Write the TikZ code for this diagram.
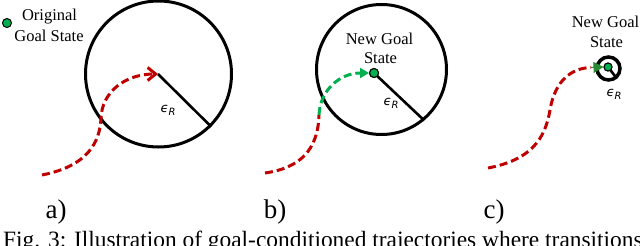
\documentclass[tikz,border=0pt]{standalone}
\usepackage{fontspec}
\setmainfont{Liberation Serif}
\newfontfamily\epsfont{DejaVu Sans}
\usetikzlibrary{arrows.meta}
\definecolor{trajred}{RGB}{192,0,0}
\definecolor{trajgreen}{RGB}{0,176,80}
\definecolor{tipgreen}{RGB}{40,140,50}
\begin{document}
\begin{tikzpicture}[x=1pt,y=-1pt,
  ring/.style={circle,draw=black,line width=3pt,inner sep=0pt},
  radline/.style={draw=black,line width=2.6pt},
  goaldot/.style={circle,fill=trajgreen,draw=black,line width=1pt,minimum size=9pt,inner sep=0pt},
  lbl/.style={font=\fontsize{16.5}{20}\selectfont,inner sep=0pt,anchor=base},
  eps/.style={font=\epsfont\itshape\fontsize{13}{13}\selectfont,inner sep=0pt},
  panel/.style={font=\fontsize{27}{30}\selectfont,inner sep=0pt,anchor=base},
  traj/.style={line width=3pt,dash pattern=on 8pt off 4pt},
]
\useasboundingbox (0,0) rectangle (640,246);

% ---------- panel a ----------
\node[ring,minimum size=146pt] (circA) at (158.5,74) {};
\coordinate (cA) at (158,74);
\draw[radline] (cA) -- (circA.-45);
\coordinate (startA) at (42,175);
\draw[traj,trajred,-{Straight Barb[length=8pt,width=13pt]}] (startA) .. controls (88,166) and (100,142) .. (101,118)
   .. controls (102,92) and (125,74) .. (cA);
\node[goaldot] (dotA) at (7,23) {};
\node[lbl] (origA1) at (49.5,21) {Original};
\node[lbl] (origA2) at (49,41.7) {Goal State};
\node[eps] (epsA) at (168,110) {ϵ\raisebox{-3pt}{\fontsize{10}{10}\selectfont R}};
\node[panel] (labA) at (56,218) {a)};

% ---------- panel b ----------
\node[ring,minimum size=130pt] (circB) at (381.5,69.5) {};
\node[goaldot] (dotB) at (374,73) {};
\draw[radline] (dotB.center) -- (circB.-50);
\node[goaldot] at (dotB.center) {};
\coordinate (startB) at (265,173);
\coordinate (midB) at (319,115);
\draw[traj,trajred] (startB) .. controls (300,168) and (318,150) .. (midB);
\draw[traj,trajgreen,-{Triangle[length=9pt,width=10pt]}] (midB) .. controls (320,90) and (340,73) .. (dotB.west);
\node[lbl] (newB1) at (379.5,45) {New Goal};
\node[lbl] (newB2) at (380.5,64) {State};
\node[eps] (epsB) at (391,103) {ϵ\raisebox{-3pt}{\fontsize{10}{10}\selectfont R}};
\node[panel] (labB) at (275,218) {b)};

% ---------- panel c ----------
\node[ring,line width=3.5pt,minimum size=23pt] (circC) at (608.5,68.5) {};
\node[goaldot,minimum size=8pt] (dotC) at (608,67) {};
\draw[radline] (dotC.center) -- (circC.-50);
\node[goaldot,minimum size=8pt] at (dotC.center) {};
\coordinate (startC) at (488,168);
\coordinate (endC) at (591,67.5);
\draw[traj,trajred] (startC) .. controls (530,160) and (545,140) .. (550,110)
   .. controls (555,80) and (572,68) .. (endC);
\draw[line width=1pt,tipgreen,-{Triangle[length=10pt,width=11pt]}] (endC) -- (dotC.west);
\node[lbl] (newC1) at (605.5,28) {New Goal};
\node[lbl] (newC2) at (606.5,48) {State};
\node[eps] (epsC) at (614,94) {ϵ\raisebox{-3pt}{\fontsize{10}{10}\selectfont R}};
\node[panel] (labC) at (494,218) {c)};

% ---------- caption ----------
\node[anchor=base west,inner sep=0pt,font=\fontsize{23.4}{28}\selectfont] (caption) at (3,247)
  {Fig. 3: Illustration of goal-conditioned trajectories where transitions};
\end{tikzpicture}
\end{document}
